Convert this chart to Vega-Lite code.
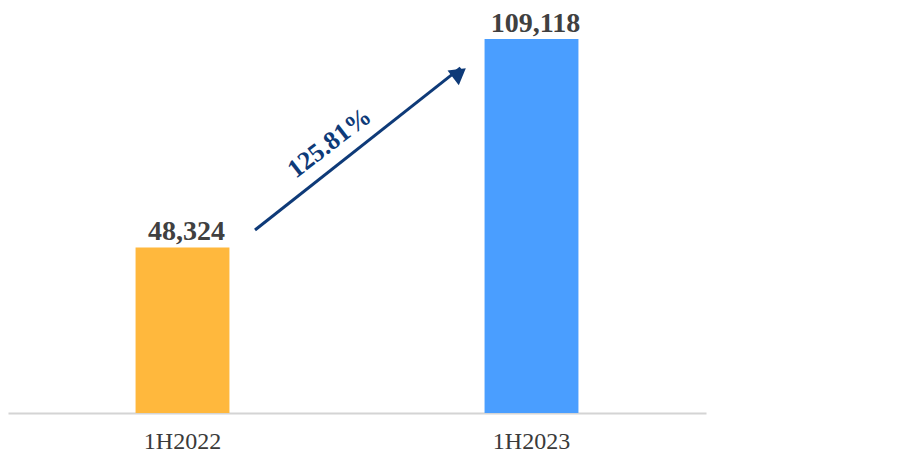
{
  "$schema": "https://vega.github.io/schema/vega-lite/v6.json",
  "autosize": {"type": "none"},
  "padding": {"left": 8, "top": 0, "right": 216, "bottom": 45},
  "width": 698,
  "height": 413,
  "background": "white",
  "config": {"view": {"stroke": null}},
  "datasets": {
    "bars": [
      {"period": "1H2022", "value": 48324, "label": "48,324"},
      {"period": "1H2023", "value": 109118, "label": "109,118"}
    ],
    "arrow": [
      {"from": "1H2022", "to": "1H2023", "start": 53400, "end": 100700, "head": 99200, "textpos": 78800, "growth": "125.81%"}
    ]
  },
  "layer": [
    {
      "data": {"name": "bars"},
      "mark": {"type": "bar"},
      "encoding": {
        "x": {
          "field": "period", "type": "nominal", "sort": null,
          "scale": {"paddingInner": 0.731, "paddingOuter": 0.3655},
          "axis": {
            "title": null, "labelAngle": 0, "ticks": false, "grid": false,
            "domainColor": "#d4d4d4", "domainWidth": 2,
            "labelFont": "Liberation Serif", "labelFontSize": 24, "labelColor": "#3a3a3a",
            "labelPadding": 16
          }
        },
        "y": {
          "field": "value", "type": "quantitative",
          "scale": {"domain": [0, 120500], "nice": false},
          "axis": null
        },
        "color": {
          "field": "period", "type": "nominal", "legend": null,
          "scale": {"domain": ["1H2022", "1H2023"], "range": ["#FFB83D", "#4A9EFF"]}
        }
      }
    },
    {
      "data": {"name": "bars"},
      "mark": {"type": "text", "font": "Liberation Serif", "fontWeight": "bold", "fontSize": 28, "color": "#404040", "baseline": "alphabetic", "dy": -7, "dx": 4},
      "encoding": {
        "x": {"field": "period", "type": "nominal", "sort": null},
        "y": {"field": "value", "type": "quantitative"},
        "text": {"field": "label"}
      }
    },
    {
      "data": {"name": "arrow"},
      "mark": {"type": "rule", "color": "#0E3A78", "strokeWidth": 3, "xOffset": 72.5, "x2Offset": -71},
      "encoding": {
        "x": {"field": "from", "type": "nominal"},
        "x2": {"field": "to"},
        "y": {"field": "start", "type": "quantitative"},
        "y2": {"field": "end"}
      }
    },
    {
      "data": {"name": "arrow"},
      "mark": {"type": "point", "shape": "triangle-up", "filled": true, "opacity": 1, "color": "#0E3A78", "size": 340, "angle": 52.4, "xOffset": -72},
      "encoding": {
        "x": {"field": "to", "type": "nominal"},
        "y": {"field": "head", "type": "quantitative"}
      }
    },
    {
      "data": {"name": "arrow"},
      "mark": {"type": "text", "font": "Liberation Serif", "fontWeight": "bold", "fontSize": 26, "color": "#0E3A78", "angle": -37.6, "align": "center", "baseline": "middle", "xOffset": 147},
      "encoding": {
        "x": {"field": "from", "type": "nominal"},
        "y": {"field": "textpos", "type": "quantitative"},
        "text": {"field": "growth"}
      }
    }
  ]
}
